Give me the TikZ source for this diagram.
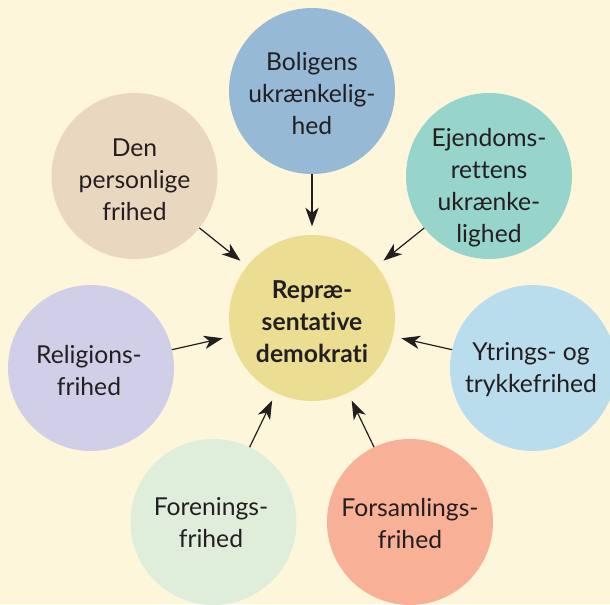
\documentclass[tikz,border=0pt]{standalone}
\usepackage{fontspec}
\setmainfont{Lato}[Ligatures={NoCommon}]
\usetikzlibrary{arrows.meta}
\definecolor{bg}{HTML}{FDF6DA}
\definecolor{txt}{HTML}{231F20}
\definecolor{cctr}{HTML}{EBDE92}
\definecolor{cbol}{HTML}{96BAD6}
\definecolor{cden}{HTML}{EAD7C0}
\definecolor{cejd}{HTML}{97D4CC}
\definecolor{crel}{HTML}{D0CFE7}
\definecolor{cytr}{HTML}{BADDEE}
\definecolor{cfor}{HTML}{DFEEDA}
\definecolor{cfsa}{HTML}{F8B096}
\begin{document}
\begin{tikzpicture}[x=0.75pt,y=-0.75pt,
  bubble/.style={circle,minimum size=124.5pt,inner sep=0pt,outer sep=0pt},
  lbl/.style={align=center,font=\fontsize{18.5}{24}\selectfont,text=txt,inner sep=0pt},
  arr/.style={draw=txt,line width=0.9pt,-{Stealth[length=14pt,width=10pt,inset=4pt]},shorten >=6.5pt}]
\useasboundingbox (0,0) rectangle (610,604);
\clip (0,0) rectangle (610,604);
\fill[bg] (0,0) rectangle (610,604);
% circles
\node[bubble,fill=cctr] (ctr) at (312,318) {};
\node[bubble,fill=cbol] (bol) at (312,91) {};
\node[bubble,fill=cden] (den) at (134.5,176) {};
\node[bubble,fill=cejd] (ejd) at (489,176) {};
\node[bubble,fill=crel] (rel) at (91,368) {};
\node[bubble,fill=cytr] (ytr) at (533,368) {};
\node[bubble,fill=cfor] (for) at (213.5,522) {};
\node[bubble,fill=cfsa] (fsa) at (410,522) {};
% labels
\node[lbl,font=\fontsize{18.5}{24}\selectfont\bfseries] (tctr) at (312,322) {Repræ-\\sentative\\demokrati};
\node[lbl] (tbol) at (312,93) {Boligens\\ukrænkelig-\\hed};
\node[lbl] (tden) at (134.5,180) {Den\\personlige\\frihed};
\node[lbl] (tejd) at (489,188) {Ejendoms-\\rettens\\ukrænke-\\lighed};
\node[lbl] (trel) at (89,370) {Religions-\\frihed};
\node[lbl] (tytr) at (531,370) {Ytrings- og\\trykkefrihed};
\node[lbl] (tfor) at (211,523) {Forenings-\\frihed};
\node[lbl] (tfsa) at (410,523) {Forsamlings-\\frihed};
% arrows
\draw[arr] (bol) -- (ctr);
\draw[arr] (den) -- (ctr);
\draw[arr] (ejd) -- (ctr);
\draw[arr] (rel) -- (ctr);
\draw[arr] (ytr) -- (ctr);
\draw[arr] (for) -- (ctr);
\draw[arr] (fsa) -- (ctr);
\end{tikzpicture}
\end{document}
